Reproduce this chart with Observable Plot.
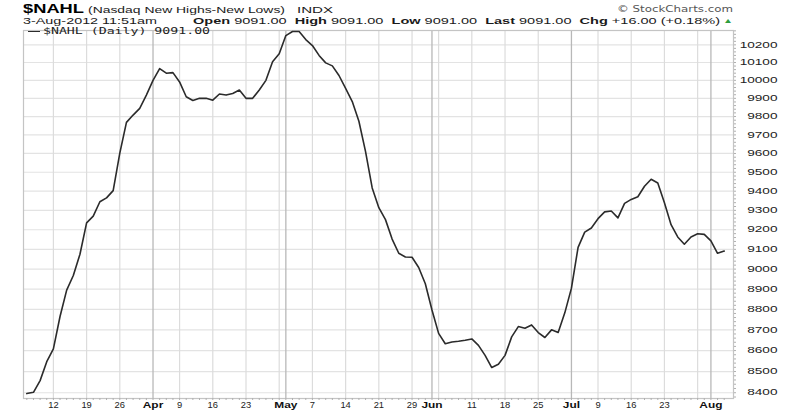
<!DOCTYPE html>
<html><head><meta charset="utf-8">
<script src="https://cdn.jsdelivr.net/npm/d3@7"></script>
<script src="https://cdn.jsdelivr.net/npm/@observablehq/plot@0.6"></script>
<style>
body{margin:0;background:#fff;font-family:"Liberation Sans",Arial,sans-serif;}
#wrap{position:relative;width:800px;height:413px;overflow:hidden;background:#fff}
#head{position:relative;height:24px}
.t{position:absolute;white-space:nowrap;transform-origin:0 0;color:#1a1a1a}
#chart svg{display:block}
</style></head><body>
<div id="wrap"><div id="head"></div><div id="chart"></div></div>
<script>
// ---- data ----
const symbol = "$NAHL";
const symbolName = "(Nasdaq New Highs-New Lows)";
const exchange = "INDX";
const stamp = "3-Aug-2012 11:51am";
const openV = "9091.00", highV = "9091.00", lowV = "9091.00", lastV = "9091.00";
const chg = "+16.00 (+0.18%)";
const credit = "\u00A9 StockCharts.com";
const legendText = "$NAHL (Daily) 9091.00";

const dates = [
"2012-03-06","2012-03-07","2012-03-08","2012-03-09",
"2012-03-12","2012-03-13","2012-03-14","2012-03-15","2012-03-16",
"2012-03-19","2012-03-20","2012-03-21","2012-03-22","2012-03-23",
"2012-03-26","2012-03-27","2012-03-28","2012-03-29","2012-03-30",
"2012-04-02","2012-04-03","2012-04-04","2012-04-05",
"2012-04-09","2012-04-10","2012-04-11","2012-04-12","2012-04-13",
"2012-04-16","2012-04-17","2012-04-18","2012-04-19","2012-04-20",
"2012-04-23","2012-04-24","2012-04-25","2012-04-26","2012-04-27",
"2012-04-30",
"2012-05-01","2012-05-02","2012-05-03","2012-05-04",
"2012-05-07","2012-05-08","2012-05-09","2012-05-10","2012-05-11",
"2012-05-14","2012-05-15","2012-05-16","2012-05-17","2012-05-18",
"2012-05-21","2012-05-22","2012-05-23","2012-05-24","2012-05-25",
"2012-05-29","2012-05-30","2012-05-31",
"2012-06-01",
"2012-06-04","2012-06-05","2012-06-06","2012-06-07","2012-06-08",
"2012-06-11","2012-06-12","2012-06-13","2012-06-14","2012-06-15",
"2012-06-18","2012-06-19","2012-06-20","2012-06-21","2012-06-22",
"2012-06-25","2012-06-26","2012-06-27","2012-06-28","2012-06-29",
"2012-07-02","2012-07-03","2012-07-05","2012-07-06",
"2012-07-09","2012-07-10","2012-07-11","2012-07-12","2012-07-13",
"2012-07-16","2012-07-17","2012-07-18","2012-07-19","2012-07-20",
"2012-07-23","2012-07-24","2012-07-25","2012-07-26","2012-07-27",
"2012-07-30","2012-07-31",
"2012-08-01","2012-08-02","2012-08-03"];

const values = [
8396,8402,8457,8547,
8608,8765,8895,8968,9075,
9235,9270,9345,9365,9403,
9602,9768,9808,9845,9918,
10000,10066,10040,10043,
9991,9909,9888,9900,9900,
9890,9924,9918,9927,9946,
9900,9900,9946,10000,10104,
10149,
10253,10276,10276,10230,
10196,10140,10098,10081,10027,
9955,9882,9774,9610,9417,
9314,9252,9152,9080,9061,
9060,9008,8927,
8797,
8683,8633,8641,8645,8650,
8656,8625,8577,8519,8535,
8577,8666,8716,8708,8724,
8687,8663,8700,8687,8783,
8905,9110,9188,9209,
9257,9292,9297,9261,9336,
9357,9371,9426,9463,9443,
9340,9226,9163,9126,9163,
9179,9176,
9143,9080,9091];

const weekGridDates = ["2012-03-12","2012-03-19","2012-03-26","2012-04-09","2012-04-16","2012-04-23","2012-04-30",
"2012-05-07","2012-05-14","2012-05-21","2012-05-29","2012-06-04","2012-06-11","2012-06-18","2012-06-25",
"2012-07-09","2012-07-16","2012-07-23","2012-07-30"];
const monthDates = ["2012-04-02","2012-05-01","2012-06-01","2012-07-02","2012-08-01"];
const monthLabels = ["Apr","May","Jun","Jul","Aug"];
const dayLabelDates = ["2012-03-12","2012-03-19","2012-03-26","2012-04-09","2012-04-16","2012-04-23",
"2012-05-07","2012-05-14","2012-05-21","2012-05-29","2012-06-11","2012-06-18","2012-06-25",
"2012-07-09","2012-07-16","2012-07-23"];
const dayLabels = ["12","19","26","9","16","23","7","14","21","29","11","18","25","9","16","23"];
const yTicks = [8400,8500,8600,8700,8800,8900,9000,9100,9200,9300,9400,9500,9600,9700,9800,9900,10000,10100,10200];
const yTickLabels = ["8400","8500","8600","8700","8800","8900","9000","9100","9200","9300","9400","9500","9600","9700","9800","9900","10000","10100","10200"];

// ---- build ----
const idx = new Map(dates.map((d, i) => [d, i]));
const rows = dates.map((d, i) => ({i, v: values[i]}));
const dayIdx = dates.map((d, i) => i);
const weekIdx = weekGridDates.map(d => idx.get(d));
const monthIdx = monthDates.map(d => idx.get(d));
const dayLabelIdx = dayLabelDates.map(d => idx.get(d));
const dayLabelMap = new Map(dayLabelIdx.map((v, k) => [v, dayLabels[k]]));
const monthLabelMap = new Map(monthIdx.map((v, k) => [v, monthLabels[k]]));
const yLabelMap = new Map(yTicks.map((v, k) => [v, yTickLabels[k]]));
const yMinor = d3.range(8380, 10281, 20);

const plot = Plot.plot({
  width: 800, height: 389,
  marginTop: 6, marginBottom: 15, marginLeft: 23, marginRight: 67,
  style: {fontFamily: "'Liberation Sans', Arial, sans-serif", background: "#fff", color: "#1a1a1a"},
  x: {domain: [-0.5, 106.4], axis: null, label: null},
  y: {type: "log", domain: [8373, 10282], axis: null, label: null},
  marks: [
    Plot.gridY(yTicks, {stroke: "#e3e3e3", strokeOpacity: 1, strokeWidth: 1.2}),
    Plot.gridX(weekIdx, {stroke: "#dcdcdc", strokeOpacity: 1, strokeWidth: 1.2}),
    Plot.gridX(monthIdx, {stroke: "#b8b8b8", strokeOpacity: 1, strokeWidth: 1.3}),
    Plot.frame({stroke: "#c4c4c4", strokeWidth: 1.2}),
    Plot.axisX(dayIdx, {anchor: "bottom", tickSize: 2, tickFormat: () => "", label: null, stroke: "#b0b0b0"}),
    Plot.axisY(yMinor, {anchor: "right", tickSize: 2, tickFormat: () => "", label: null, stroke: "#b0b0b0"}),
    Plot.axisX(dayLabelIdx, {anchor: "bottom", tickSize: 0, tickPadding: 3, label: null, tickFormat: i => dayLabelMap.get(i), fontSize: 8.5, fill: "#222"}),
    Plot.axisX(monthIdx, {anchor: "bottom", tickSize: 0, tickPadding: 3, label: null, tickFormat: i => monthLabelMap.get(i), fontSize: 8.5, fontWeight: "bold", fill: "#111"}),
    Plot.axisY(yTicks, {anchor: "right", tickSize: 0, tickPadding: 44, label: null, textAnchor: "end", tickFormat: v => yLabelMap.get(v), fontSize: 8.5, fill: "#222"}),
    Plot.lineY(rows, {x: "i", y: "v", stroke: "#2b2b2b", strokeWidth: 1.6})
  ]
});
document.getElementById("chart").append(plot);

// widen tick label glyphs to match the stretched look of the original
plot.querySelectorAll("g[aria-label] text").forEach(t => {
  const lab = t.parentNode.getAttribute("aria-label") || "";
  if (!/tick label/.test(lab)) return;
  const w = t.getComputedTextLength();
  if (!w) return;
  let f = 1.1;
  if (/^y/.test(lab)) f = 1.6;
  else if (t.getAttribute("font-weight") === "bold" || t.parentNode.getAttribute("font-weight") === "bold") f = 1.4;
  t.setAttribute("textLength", (w * f).toFixed(2));
  t.setAttribute("lengthAdjust", "spacingAndGlyphs");
});

// ---- header (HTML, above the SVG) ----
const wrap = document.getElementById("wrap");
function place(html, left, right, baseline, size, opts = {}) {
  const s = document.createElement("span");
  s.className = "t";
  s.innerHTML = html;
  s.style.fontSize = size + "px";
  s.style.lineHeight = (0.85 * size) + "px";
  if (opts.weight) s.style.fontWeight = opts.weight;
  if (opts.color) s.style.color = opts.color;
  if (opts.family) s.style.fontFamily = opts.family;
  wrap.appendChild(s);
  const w = s.getBoundingClientRect().width;
  s.style.left = left + "px";
  s.style.top = (baseline - 0.7715 * size) + "px";
  s.style.transform = `scaleX(${((right - left) / w).toFixed(3)})`;
  return s;
}
place(symbol, 23, 84, 13.2, 12, {weight: "bold", color: "#000"});
place(symbolName, 88, 285, 13.2, 9.5);
place(exchange, 297, 333, 13.2, 8.5);
place(credit, 617, 733, 13, 9, {color: "#555", family: "'DejaVu Sans', sans-serif"});
place(stamp, 23, 157, 24.5, 9.5);
place(`<b>Open</b> ${openV} &nbsp;<b>High</b> ${highV} &nbsp;<b>Low</b> ${lowV} &nbsp;<b>Last</b> ${lastV} &nbsp;<b>Chg</b> ${chg}`, 193, 720, 24.5, 9.5);
place("\u25B2", 723, 733, 23.5, 7, {color: "#2e9e3e"});
// in-plot legend
const sw = document.createElement("div");
sw.style.cssText = "position:absolute;left:28px;top:31px;width:12px;height:0;border-top:1.6px solid #2b2b2b";
wrap.appendChild(sw);
place(legendText, 43, 210, 35.2, 9, {family: "'DejaVu Sans Mono', monospace", color: "#222"});
</script>
</body></html>
